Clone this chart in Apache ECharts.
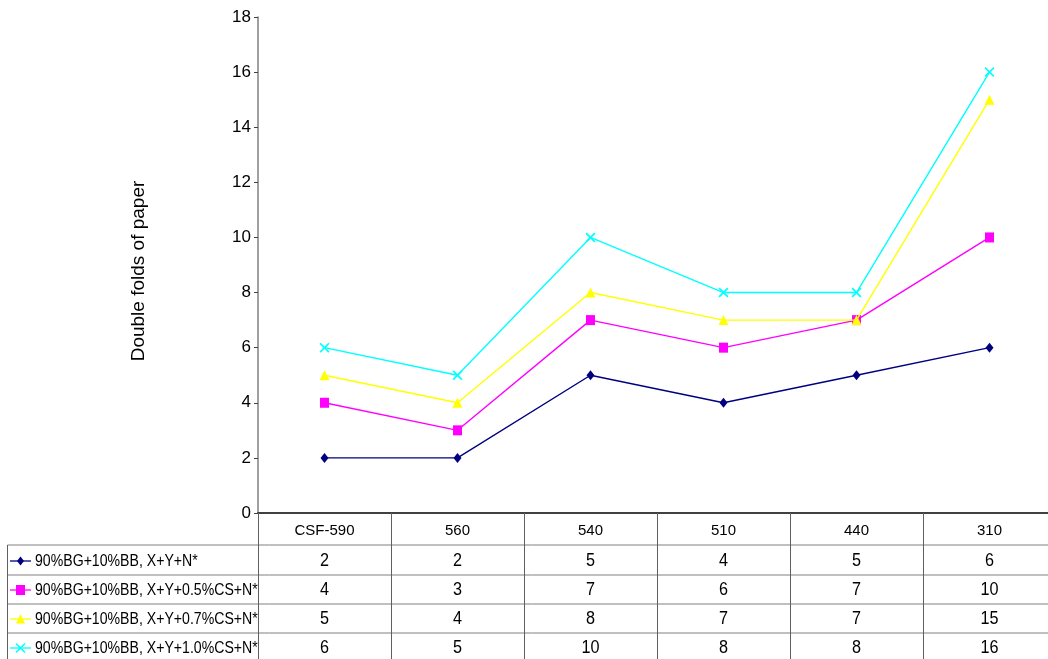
<!DOCTYPE html>
<html>
<head>
<meta charset="utf-8">
<script src="https://cdn.jsdelivr.net/npm/echarts@6/dist/echarts.min.js"></script>
<style>
  html, body { margin: 0; padding: 0; background: #ffffff; overflow: hidden; }
  #chart { width: 1056px; height: 659px; }
</style>
</head>
<body>
<div id="chart"></div>
<script>
// Furnish samples (columns) and the four mixes measured on each
const categories = ['CSF-590', '560', '540', '510', '440', '310'];
const seriesNames = [
  '90%BG+10%BB, X+Y+N*',
  '90%BG+10%BB, X+Y+0.5%CS+N*',
  '90%BG+10%BB, X+Y+0.7%CS+N*',
  '90%BG+10%BB, X+Y+1.0%CS+N*'
];
const foldsBase = [2, 2, 5, 4, 5, 6];
const folds05 = [4, 3, 7, 6, 7, 10];
const folds07 = [5, 4, 8, 7, 7, 15];
const folds10 = [6, 5, 10, 8, 8, 16];
const yMin = 0, yMax = 18, yStep = 2;

const seriesData = [foldsBase, folds05, folds07, folds10];
const colors = ['#000080', '#FF00FF', '#FFFF00', '#00FFFF'];
const xMark = 'path://M0,1.2L1.2,0L5,3.8L8.8,0L10,1.2L6.2,5L10,8.8L8.8,10L5,6.2L1.2,10L0,8.8L3.8,5Z';
const symbols = ['diamond', 'rect', 'triangle', xMark];
const symbolSizes = [[8, 10], [9, 10], [10, 10], [10, 10]];

const regular = "'Liberation Sans', Arial, sans-serif";

// Layout of the data table under the plot
const rowLines = [545, 575, 604, 633];
const rowCenters = [561, 590, 619, 648];
const tableLeft = 7.5;

const chart = echarts.init(document.getElementById('chart'), null, { renderer: 'canvas' });

const option = {
  backgroundColor: '#ffffff',
  animation: false,
  grid: { left: 258, right: 0, top: 17, bottom: 146, containLabel: false },
  xAxis: {
    type: 'category',
    data: categories,
    boundaryGap: true,
    axisLine: { show: true, lineStyle: { color: '#404040', width: 2 } },
    axisTick: {
      show: true, interval: 0, inside: false, length: 146,
      lineStyle: { color: '#606060', width: 1 }
    },
    axisLabel: {
      interval: 0, margin: 10, color: '#000', fontSize: 15, fontFamily: regular
    },
    splitLine: { show: false }
  },
  yAxis: {
    type: 'value',
    min: yMin, max: yMax, interval: yStep,
    name: 'Double folds of paper',
    nameLocation: 'middle',
    nameRotate: 90,
    nameGap: 110,
    nameTextStyle: { color: '#000', fontSize: 19, fontFamily: regular, padding: [0, 12, 0, 0] },
    axisLine: { show: true, lineStyle: { color: '#808080', width: 1.5 } },
    axisTick: { show: true, inside: false, length: 4, lineStyle: { color: '#404040' } },
    axisLabel: { color: '#000', fontSize: 17, fontFamily: regular, margin: 7 },
    splitLine: { show: false }
  },
  series: seriesData.map((d, i) => ({
    name: seriesNames[i],
    type: 'line',
    data: d,
    symbol: symbols[i],
    symbolSize: symbolSizes[i],
    showAllSymbol: true,
    itemStyle: { color: colors[i] },
    lineStyle: { color: colors[i], width: 1.4 },
    z: 2 + i
  }))
};

chart.setOption(option);

// Data table: grid lines, legend keys and the value cells
const graphics = [];
const rightEdge = 1056;

rowLines.forEach((y) => {
  graphics.push({
    type: 'line', silent: true,
    shape: { x1: tableLeft, y1: y, x2: rightEdge, y2: y },
    style: { stroke: '#808080', lineWidth: 1 }
  });
});
graphics.push({
  type: 'line', silent: true,
  shape: { x1: tableLeft, y1: rowLines[0], x2: tableLeft, y2: 659 },
  style: { stroke: '#606060', lineWidth: 1 }
});

function keyGlyph(i, cx, cy) {
  const c = colors[i];
  if (i === 0) {
    return { type: 'polygon', shape: { points: [[cx, cy - 4.5], [cx + 3.5, cy], [cx, cy + 4.5], [cx - 3.5, cy]] }, style: { fill: c } };
  }
  if (i === 1) {
    return { type: 'rect', shape: { x: cx - 4.5, y: cy - 5, width: 9, height: 10 }, style: { fill: c } };
  }
  if (i === 2) {
    return { type: 'polygon', shape: { points: [[cx, cy - 5], [cx + 4.5, cy + 4.5], [cx - 4.5, cy + 4.5]] }, style: { fill: c } };
  }
  return {
    type: 'group', children: [
      { type: 'line', shape: { x1: cx - 4.5, y1: cy - 4.5, x2: cx + 4.5, y2: cy + 4.5 }, style: { stroke: c, lineWidth: 1.5 } },
      { type: 'line', shape: { x1: cx + 4.5, y1: cy - 4.5, x2: cx - 4.5, y2: cy + 4.5 }, style: { stroke: c, lineWidth: 1.5 } }
    ]
  };
}

seriesData.forEach((d, i) => {
  const cy = rowCenters[i];
  graphics.push({
    type: 'line', silent: true,
    shape: { x1: 10, y1: cy, x2: 31, y2: cy },
    style: { stroke: colors[i], lineWidth: 1.3 }
  });
  const g = keyGlyph(i, 20.5, cy);
  g.silent = true;
  graphics.push(g);
  graphics.push({
    type: 'text', silent: true,
    x: 35, y: cy, scaleX: 0.83,
    style: {
      text: seriesNames[i], x: 0, y: 0, fill: '#000',
      font: '17px ' + regular, textAlign: 'left', textVerticalAlign: 'middle'
    }
  });
  d.forEach((v, j) => {
    graphics.push({
      type: 'text', silent: true,
      x: chart.convertToPixel({ xAxisIndex: 0 }, j), y: cy, scaleX: 0.9,
      style: {
        text: String(v), x: 0, y: 0,
        fill: '#000',
        font: '18px ' + regular,
        textAlign: 'center', textVerticalAlign: 'middle'
      }
    });
  });
});

chart.setOption({ graphic: { elements: graphics } });
</script>
</body>
</html>
